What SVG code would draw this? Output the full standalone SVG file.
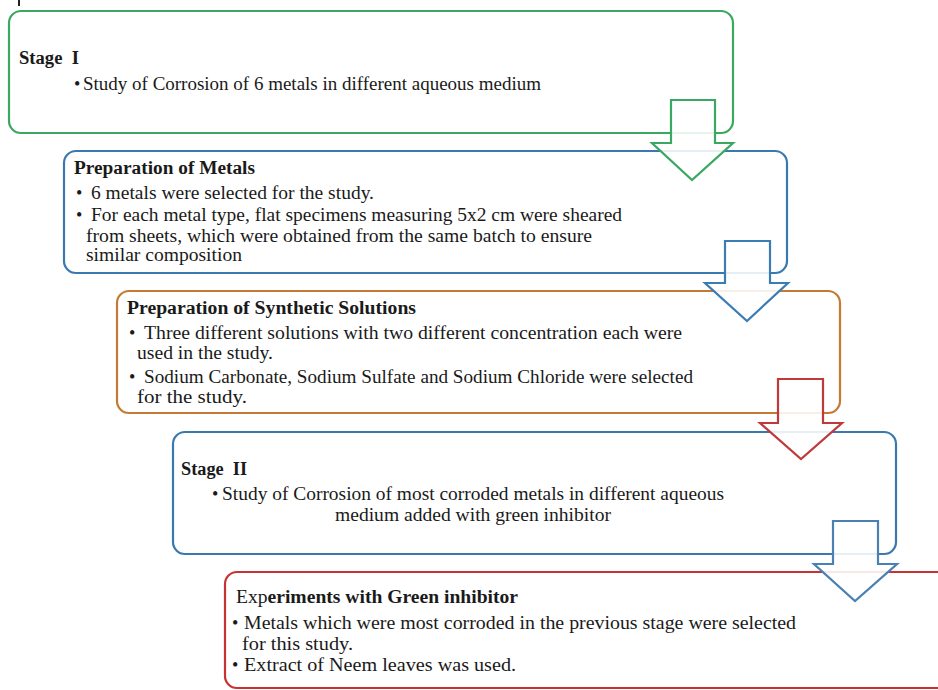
<svg xmlns="http://www.w3.org/2000/svg" width="938" height="690" viewBox="0 0 938 690">
<style>
.box{fill:#ffffff;stroke-width:2.2}
.arr{fill:#ffffff;fill-opacity:0.88;stroke-width:2.2;stroke-linejoin:miter}
text{font-family:"Liberation Serif","DejaVu Serif",serif;font-size:18px;fill:#1a1a1a}
.b{font-weight:bold}
</style>
<rect x="18" y="0" width="2" height="6" fill="#222"/>
<g id="stage1">
<rect class="box" x="9" y="11" width="724" height="122" rx="12" stroke="#3aa860"/>
<text class="b" x="19" y="64" textLength="60" lengthAdjust="spacingAndGlyphs">Stage&#160; I</text>
<text x="74" y="90">•</text>
<text x="83" y="90" textLength="458" lengthAdjust="spacingAndGlyphs">Study of Corrosion of 6 metals in different aqueous medium</text>
</g>
<g id="metals">
<rect class="box" x="64" y="151" width="723" height="122" rx="12" stroke="#3a78b0"/>
<text class="b" x="74" y="174" textLength="181" lengthAdjust="spacingAndGlyphs">Preparation of Metals</text>
<text x="76" y="199">•</text>
<text x="91" y="199" textLength="283" lengthAdjust="spacingAndGlyphs">6 metals were selected for the study.</text>
<text x="76" y="221">•</text>
<text x="91" y="221" textLength="531" lengthAdjust="spacingAndGlyphs">For each metal type, flat specimens measuring 5x2 cm were sheared</text>
<text x="86" y="242" textLength="506" lengthAdjust="spacingAndGlyphs">from sheets, which were obtained from the same batch to ensure</text>
<text x="86" y="261" textLength="156" lengthAdjust="spacingAndGlyphs">similar composition</text>
</g>
<g id="solutions">
<rect class="box" x="117" y="291" width="723" height="122" rx="12" stroke="#c47a35"/>
<text class="b" x="127" y="314" textLength="289" lengthAdjust="spacingAndGlyphs">Preparation of Synthetic Solutions</text>
<text x="129" y="339">•</text>
<text x="144" y="339" textLength="538" lengthAdjust="spacingAndGlyphs">Three different solutions with two different concentration each were</text>
<text x="137" y="359" textLength="136" lengthAdjust="spacingAndGlyphs">used in the study.</text>
<text x="129" y="383">•</text>
<text x="144" y="383" textLength="549" lengthAdjust="spacingAndGlyphs">Sodium Carbonate, Sodium Sulfate and Sodium Chloride were selected</text>
<text x="137" y="403" textLength="110" lengthAdjust="spacingAndGlyphs">for the study.</text>
</g>
<g id="stage2">
<rect class="box" x="173" y="432" width="723" height="122" rx="12" stroke="#3a78b0"/>
<text class="b" x="181" y="475" textLength="66" lengthAdjust="spacingAndGlyphs">Stage&#160; II</text>
<text x="212" y="500">•</text>
<text x="222" y="500" textLength="502" lengthAdjust="spacingAndGlyphs">Study of Corrosion of most corroded metals in different aqueous</text>
<text x="335" y="521" textLength="276" lengthAdjust="spacingAndGlyphs">medium added with green inhibitor</text>
</g>
<g id="green">
<rect class="box" x="225" y="572" width="730" height="116" rx="12" stroke="#c83232"/>
<text x="236" y="603" textLength="282" lengthAdjust="spacingAndGlyphs">Exp<tspan class="b">eriments with Green inhibitor</tspan></text>
<text x="232" y="629">•</text>
<text x="244" y="629" textLength="552" lengthAdjust="spacingAndGlyphs">Metals which were most corroded in the previous stage were selected</text>
<text x="242" y="650" textLength="111" lengthAdjust="spacingAndGlyphs">for this study.</text>
<text x="232" y="671">•</text>
<text x="244" y="671" textLength="272" lengthAdjust="spacingAndGlyphs">Extract of Neem leaves was used.</text>
</g>
<g id="connectors">
<polygon class="arr" stroke="#3aa860" points="671,100 715,100 715,143 733,143 692,180 652,143 671,143"/>
<polygon class="arr" stroke="#3a7db5" points="725,241 770,241 770,283 788,283 747,321 705,283 725,283"/>
<polygon class="arr" stroke="#c0393b" points="778,379 823,379 823,423 842,423 801,459 760,423 778,423"/>
<polygon class="arr" stroke="#4a80b2" points="833,521 878,521 878,564 897,564 855,601 814,564 833,564"/>
</g>
</svg>
